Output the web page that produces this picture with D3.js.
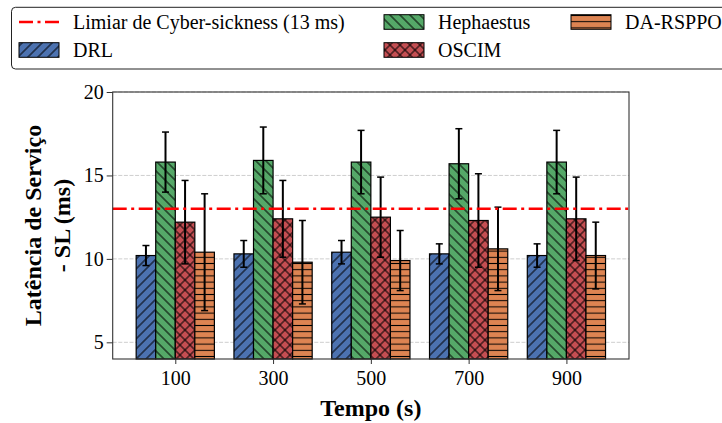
<!DOCTYPE html>
<html>
<head>
<meta charset="utf-8">
<script src="https://cdn.jsdelivr.net/npm/d3@7"></script>
<style>
  body { margin: 0; background: #fff; }
  svg { display: block; font-family: "Liberation Serif", "Times New Roman", serif; }
</style>
</head>
<body>
<svg id="chart" width="722" height="423"></svg>
<script>
// data
const tempos = ["100", "300", "500", "700", "900"];
const seriesNames = ["DRL", "Hephaestus", "OSCIM", "DA-RSPPO"];
const drlMean = [10.2, 10.3, 10.4, 10.3, 10.2];
const drlErr = [0.6, 0.8, 0.7, 0.6, 0.7];
const hephMean = [15.8, 15.9, 15.8, 15.7, 15.8];
const hephErr = [1.8, 2.0, 1.9, 2.1, 1.9];
const oscimMean = [12.2, 12.4, 12.5, 12.3, 12.4];
const oscimErr = [2.5, 2.3, 2.4, 2.8, 2.5];
const rsppoMean = [10.4, 9.8, 9.9, 10.6, 10.2];
const rsppoErr = [3.5, 2.5, 1.8, 2.5, 2.0];
const threshold = 13;
const yTicks = [5, 10, 15, 20];

const means = [drlMean, hephMean, oscimMean, rsppoMean];
const errs = [drlErr, hephErr, oscimErr, rsppoErr];
const colors = ["#4c72b0", "#55a868", "#c44e52", "#dd8452"];
const hatches = ["fwd", "back", "cross", "horiz"];

const svg = d3.select("#chart");
const plot = { left: 112.7, right: 629, top: 92, bottom: 359 };
const barW = 0.2;

const x = d3.scaleLinear().domain([-0.64, 4.64]).range([plot.left, plot.right]);
const y = d3.scaleLinear().domain([4, 20]).range([plot.bottom, plot.top]);

// --- hatch patterns ---
const defs = svg.append("defs");
function makePattern(id, color, kind) {
  const diag = 10 / Math.SQRT2;
  const p = defs.append("pattern")
    .attr("id", id)
    .attr("patternUnits", "userSpaceOnUse");
  if (kind === "horiz") {
    const h = 6.2;
    p.attr("width", 10).attr("height", h);
    p.append("rect").attr("width", 10).attr("height", h).attr("fill", color);
    p.append("line").attr("x1", 0).attr("x2", 10).attr("y1", h / 2).attr("y2", h / 2)
      .attr("stroke", "#000").attr("stroke-width", 1);
  } else {
    p.attr("width", diag).attr("height", diag)
      .attr("patternTransform", kind === "back" ? "rotate(-45)" : "rotate(45)");
    p.append("rect").attr("width", diag).attr("height", diag).attr("fill", color);
    p.append("line").attr("x1", diag / 2).attr("x2", diag / 2).attr("y1", 0).attr("y2", diag)
      .attr("stroke", "#000").attr("stroke-width", 1);
    if (kind === "cross") {
      p.append("line").attr("x1", 0).attr("x2", diag).attr("y1", diag / 2).attr("y2", diag / 2)
        .attr("stroke", "#000").attr("stroke-width", 1);
    }
  }
}
seriesNames.forEach((s, j) => makePattern("hatch" + j, colors[j], hatches[j]));

// --- gridlines ---
svg.append("g")
  .selectAll("line")
  .data(yTicks)
  .join("line")
  .attr("x1", plot.left).attr("x2", plot.right)
  .attr("y1", d => y(d)).attr("y2", d => y(d))
  .attr("stroke", "#c8c8c8")
  .attr("stroke-width", 0.9)
  .attr("stroke-dasharray", "4,1.6");

// --- bars ---
seriesNames.forEach((s, j) => {
  const g = svg.append("g");
  const data = tempos.map((t, i) => ({ i, v: means[j][i], e: errs[j][i] }));
  const off = (j - 1.5) * barW;
  g.selectAll("rect")
    .data(data)
    .join("rect")
    .attr("x", d => x(d.i + off - barW / 2))
    .attr("width", x(barW) - x(0))
    .attr("y", d => y(d.v))
    .attr("height", d => plot.bottom - y(d.v))
    .attr("fill", `url(#hatch${j})`)
    .attr("stroke", "#000")
    .attr("stroke-width", 1.2);
});

// --- error bars ---
seriesNames.forEach((s, j) => {
  const g = svg.append("g").attr("stroke", "#000").attr("stroke-width", 2);
  const off = (j - 1.5) * barW;
  tempos.forEach((t, i) => {
    const cx = x(i + off);
    const lo = y(means[j][i] - errs[j][i]);
    const hi = y(means[j][i] + errs[j][i]);
    g.append("line").attr("x1", cx).attr("x2", cx).attr("y1", lo).attr("y2", hi);
    g.append("line").attr("x1", cx - 3.5).attr("x2", cx + 3.5).attr("y1", lo).attr("y2", lo).attr("stroke-width", 1.5);
    g.append("line").attr("x1", cx - 3.5).attr("x2", cx + 3.5).attr("y1", hi).attr("y2", hi).attr("stroke-width", 1.5);
  });
});

// --- threshold line ---
svg.append("line")
  .attr("x1", plot.left).attr("x2", plot.right)
  .attr("y1", y(threshold)).attr("y2", y(threshold))
  .attr("stroke", "#ff0000")
  .attr("stroke-width", 2.5)
  .attr("stroke-dasharray", "14,4.5,3,4.5");

// --- frame ---
svg.append("rect")
  .attr("x", plot.left).attr("y", plot.top)
  .attr("width", plot.right - plot.left).attr("height", plot.bottom - plot.top)
  .attr("fill", "none").attr("stroke", "#333").attr("stroke-width", 1.1);

// --- axes ---
const xAxis = svg.append("g")
  .attr("transform", `translate(0,${plot.bottom})`)
  .call(d3.axisBottom(x).tickValues(d3.range(tempos.length)).tickFormat(i => tempos[i]).tickSize(5).tickPadding(7));
xAxis.select(".domain").remove();
xAxis.selectAll("text").attr("font-size", "20px").attr("fill", "#000").attr("font-family", "Liberation Serif");
xAxis.selectAll("line").attr("stroke", "#333");

const yAxis = svg.append("g")
  .attr("transform", `translate(${plot.left},0)`)
  .call(d3.axisLeft(y).tickValues(yTicks).tickSize(6).tickPadding(3));
yAxis.select(".domain").remove();
yAxis.selectAll("text").attr("font-size", "20px").attr("fill", "#000").attr("font-family", "Liberation Serif");
yAxis.selectAll("line").attr("stroke", "#333");

// --- axis labels ---
svg.append("text")
  .attr("x", (plot.left + plot.right) / 2).attr("y", 416)
  .attr("text-anchor", "middle")
  .attr("font-size", "24px").attr("font-weight", "bold")
  .text("Tempo (s)");

const yMid = (plot.top + plot.bottom) / 2;
[["Latência de Serviço", 41], ["- SL (ms)", 70]].forEach(([t, bx]) => {
  svg.append("text")
    .attr("transform", `translate(${bx},${yMid}) rotate(-90)`)
    .attr("text-anchor", "middle")
    .attr("font-size", "24px").attr("font-weight", "bold")
    .text(t);
});

// --- legend ---
const legend = svg.append("g");
legend.append("rect")
  .attr("x", 11.5).attr("y", 7.3).attr("width", 740).attr("height", 61.7)
  .attr("rx", 4).attr("fill", "#fff").attr("stroke", "#222").attr("stroke-width", 1);

const legendItems = [
  { label: "Limiar de Cyber-sickness (13 ms)", line: true, hx: 19, ty: 22 },
  { label: "DRL", s: 0, hx: 19, ty: 50 },
  { label: "Hephaestus", s: 1, hx: 384, ty: 22 },
  { label: "OSCIM", s: 2, hx: 384, ty: 50 },
  { label: "DA-RSPPO", s: 3, hx: 571, ty: 22 }
];
legendItems.forEach(d => {
  if (d.line) {
    legend.append("line")
      .attr("x1", d.hx).attr("x2", d.hx + 40).attr("y1", d.ty).attr("y2", d.ty)
      .attr("stroke", "#ff0000").attr("stroke-width", 2.5)
      .attr("stroke-dasharray", "14,4.5,3,4.5");
  } else {
    legend.append("rect")
      .attr("x", d.hx).attr("y", d.ty - 7.3).attr("width", 40).attr("height", 14.6)
      .attr("fill", `url(#hatch${d.s})`).attr("stroke", "#000").attr("stroke-width", 1);
  }
  legend.append("text")
    .attr("x", d.hx + 54).attr("y", d.ty).attr("dy", "0.35em")
    .attr("font-size", "20px")
    .text(d.label);
});
</script>
</body>
</html>
